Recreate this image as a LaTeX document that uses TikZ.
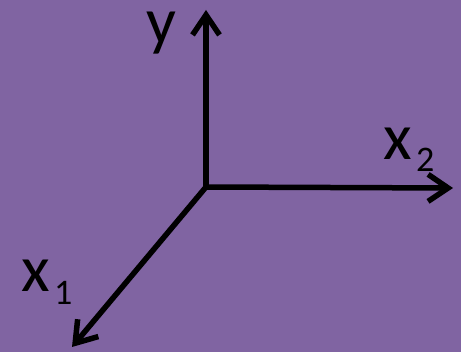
\documentclass[tikz,border=0pt]{standalone}
\usepackage{fontspec}
\setmainfont{Carlito}
\usetikzlibrary{arrows.meta}
\definecolor{bgpurple}{HTML}{8064A2}
\begin{document}
\begin{tikzpicture}[x=1pt,y=-1pt,
  axis/.style={line width=5.5pt,-{Straight Barb[length=20pt,width=27pt,line width=5.5pt]}},
  lab/.style={inner sep=0pt,anchor=base west,font=\fontsize{66}{66}\selectfont},
  sub/.style={inner sep=0pt,anchor=base west,font=\fontsize{36}{36}\selectfont}]
\fill[bgpurple] (0,0) rectangle (461,352);
\useasboundingbox (0,0) rectangle (461,352);
\coordinate (o) at (206,187);
\coordinate (ytip) at (206,10);
\coordinate (x2tip) at (453,188);
\coordinate (x1tip) at (72,347);
\draw[axis] (206,189.7) -- (ytip);
\draw[axis] (o) -- (x2tip);
\draw[axis] (o) -- (x1tip);
\node[lab] (ylab) at (146,44) {y};
\node[lab] (x2lab) at (383,160) {x};
\node[sub] (x2sub) at (416,172) {2};
\node[lab] (x1lab) at (21,292) {x};
\node[sub] (x1sub) at (54,305) {1};
\end{tikzpicture}
\end{document}
